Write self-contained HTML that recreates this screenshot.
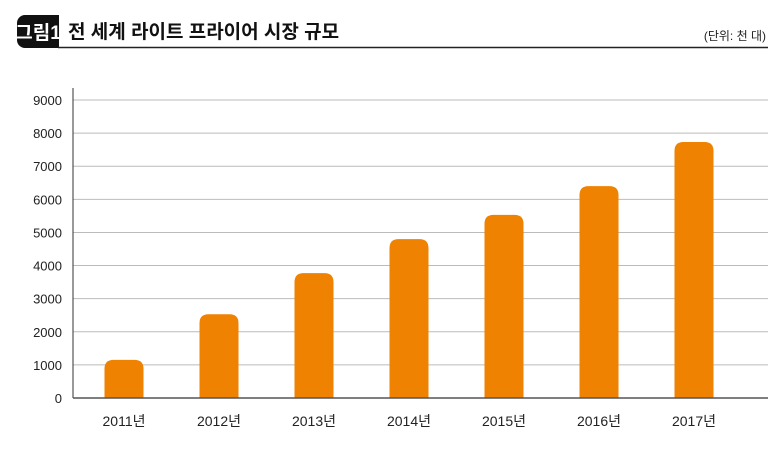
<!DOCTYPE html>
<html><head><meta charset="utf-8"><style>
body{margin:0;background:#fff;width:773px;height:462px;overflow:hidden;font-family:"Liberation Sans","Noto Sans CJK KR",sans-serif}
</style></head><body>
<svg width="773" height="462">
<rect x="17" y="15" width="42" height="33" rx="8" fill="#111"/>
<rect x="40" y="15" width="19" height="33" fill="#111"/>
<text x="38" y="39" fill="#fff" font-size="19" font-weight="bold" text-anchor="middle" font-family="Liberation Sans,Noto Sans CJK KR,sans-serif">그림1</text>
<line x1="58" y1="47.5" x2="768" y2="47.5" stroke="#222" stroke-width="1.5"/>
<text x="68" y="38" font-size="19" font-weight="bold" fill="#111" font-family="Liberation Sans,Noto Sans CJK KR,sans-serif">전 세계 라이트 프라이어 시장 규모</text>
<text x="766" y="40" font-size="12" fill="#222" text-anchor="end" font-family="Liberation Sans,Noto Sans CJK KR,sans-serif">(단위: 천 대)</text>
<g id="grid"></g><g id="bars"></g><g id="axes"></g>
</svg>
<script>
const categories=["2011년","2012년","2013년","2014년","2015년","2016년","2017년"];
const values=[1150,2530,3770,4800,5530,6400,7730];
const ticks=[0,1000,2000,3000,4000,5000,6000,7000,8000,9000];
const NS="http://www.w3.org/2000/svg";
const y0=398,yTop=100,maxV=9000,xL=73,xR=768,cx0=124,step=95,bw=39;
const y=v=>y0-(v/maxV)*(y0-yTop);
const x=i=>cx0+i*step;
function mk(t,a,p){const e=document.createElementNS(NS,t);for(const k in a)e.setAttribute(k,a[k]);p.appendChild(e);return e;}
const g=document.getElementById('grid'),b=document.getElementById('bars'),ax=document.getElementById('axes');
ticks.forEach(t=>{
 if(t>0){const l=mk('line',{x1:xL,x2:xR,y1:y(t),y2:y(t),stroke:'#bbb','stroke-width':1},g);
 
 }
 const tx=mk('text',{x:62,y:y(t)+5,'font-size':13,'text-anchor':'end',fill:'#222'},ax);tx.textContent=t;
 
 
});
values.forEach((v,i)=>{
 const top=y(v),h=y0-top,r=9;
 const p=mk('path',{d:`M${x(i)-bw/2},${y0}V${top+r}Q${x(i)-bw/2},${top} ${x(i)-bw/2+r},${top}H${x(i)+bw/2-r}Q${x(i)+bw/2},${top} ${x(i)+bw/2},${top+r}V${y0}Z`,fill:'#ef8200'},b);
 
 
 const tx=mk('text',{x:x(i),y:426,'font-size':14,'text-anchor':'middle',fill:'#222'},ax);tx.textContent=categories[i];
 
 
});
const ya=mk('line',{x1:xL,x2:xL,y1:88,y2:y0,stroke:'#333','stroke-width':1},ax);


const xa=mk('line',{x1:xL,x2:xR,y1:y0,y2:y0,stroke:'#555','stroke-width':1.5},ax);


</script>
</body></html>
